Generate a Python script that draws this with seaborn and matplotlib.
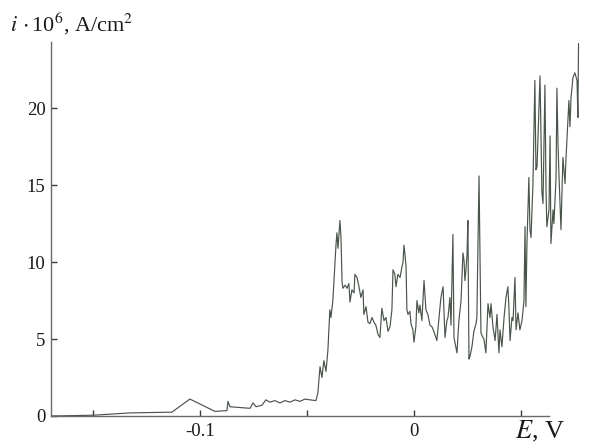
import matplotlib
matplotlib.use("Agg")
import matplotlib.pyplot as plt
import seaborn as sns
import numpy as np
import pandas as pd

# Potential E (V) and current density i*10^6 (A/cm^2)
E = [-0.1692, -0.1500, -0.1327, -0.1131, -0.1047, -0.0930, -0.0874, -0.0869, -0.0860, -0.0813,
     -0.0766, -0.0752, -0.0738, -0.0710, -0.0692, -0.0673, -0.0650, -0.0626, -0.0603, -0.0579,
     -0.0556, -0.0533, -0.0509, -0.0486, -0.0458, -0.0449, -0.0439, -0.0430, -0.0421, -0.0411,
     -0.0402, -0.0393, -0.0388, -0.0379, -0.0369, -0.0364, -0.0360, -0.0355, -0.0346, -0.0341,
     -0.0336, -0.0332, -0.0322, -0.0313, -0.0304, -0.0299, -0.0290, -0.0280, -0.0276, -0.0266,
     -0.0257, -0.0248, -0.0238, -0.0234, -0.0224, -0.0215, -0.0206, -0.0196, -0.0187, -0.0178,
     -0.0168, -0.0159, -0.0150, -0.0140, -0.0131, -0.0121, -0.0112, -0.0103, -0.0098, -0.0089,
     -0.0084, -0.0075, -0.0065, -0.0056, -0.0051, -0.0047, -0.0042, -0.0037, -0.0033, -0.0028,
     -0.0019, -0.0014, -0.0005, 0.0000, 0.0009, 0.0014, 0.0023, 0.0028, 0.0037, 0.0047,
     0.0056, 0.0065, 0.0075, 0.0084, 0.0093, 0.0107, 0.0117, 0.0126, 0.0136, 0.0145,
     0.0154, 0.0159, 0.0168, 0.0173, 0.0182, 0.0187, 0.0201, 0.0210, 0.0220, 0.0229,
     0.0234, 0.0238, 0.0243, 0.0248, 0.0252, 0.0257, 0.0262, 0.0271, 0.0280, 0.0290,
     0.0294, 0.0304, 0.0313, 0.0322, 0.0327, 0.0336, 0.0346, 0.0355, 0.0360, 0.0369,
     0.0379, 0.0388, 0.0397, 0.0402, 0.0411, 0.0421, 0.0430, 0.0439, 0.0444, 0.0449,
     0.0458, 0.0463, 0.0472, 0.0477, 0.0486, 0.0495, 0.0505, 0.0514, 0.0519, 0.0523,
     0.0528, 0.0537, 0.0542, 0.0547, 0.0556, 0.0565, 0.0570, 0.0575, 0.0589, 0.0598,
     0.0603, 0.0612, 0.0617, 0.0621, 0.0631, 0.0636, 0.0640, 0.0650, 0.0654, 0.0664,
     0.0668, 0.0673, 0.0678, 0.0687, 0.0692, 0.0696, 0.0706, 0.0710, 0.0724, 0.0729,
     0.0734, 0.0743, 0.0752, 0.0762, 0.0766, 0.0769]
I = [0.0, 0.05, 0.2, 0.25, 1.1, 0.3, 0.35, 0.95, 0.6, 0.55,
     0.5, 0.85, 0.6, 0.7, 1.05, 0.9, 1.0, 0.85, 1.0, 0.9,
     1.05, 0.95, 1.1, 1.05, 1.0, 1.5, 3.2, 2.5, 3.6, 2.9,
     4.3, 6.9, 6.4, 7.5, 9.9, 11.2, 11.9, 10.9, 12.7, 11.6,
     8.7, 8.3, 8.5, 8.3, 8.6, 7.4, 8.2, 8.0, 9.2, 9.0,
     8.4, 7.7, 8.2, 6.6, 7.1, 6.1, 6.0, 6.4, 6.1, 5.9,
     5.3, 5.1, 7.0, 6.2, 6.4, 5.5, 5.8, 6.9, 9.5, 9.2,
     8.4, 9.2, 9.0, 9.7, 10.0, 11.1, 10.5, 9.7, 6.9, 6.6,
     6.8, 6.0, 5.6, 4.8, 5.8, 7.5, 6.7, 7.2, 6.2, 8.8,
     6.9, 6.6, 5.9, 5.8, 5.5, 4.9, 6.4, 7.7, 8.4, 5.1,
     6.2, 6.4, 7.7, 5.9, 11.8, 5.1, 4.1, 6.2, 7.5, 10.6,
     10.1, 8.8, 9.5, 10.5, 12.7, 3.7, 3.9, 4.5, 5.5, 6.0,
     6.4, 15.6, 5.4, 5.1, 5.0, 4.1, 7.3, 6.4, 7.3, 5.8,
     4.9, 6.6, 4.1, 5.6, 4.5, 6.4, 7.7, 8.4, 6.9, 4.9,
     6.4, 6.2, 9.0, 5.6, 6.7, 5.6, 6.2, 7.5, 12.3, 7.1,
     11.2, 15.5, 12.1, 11.6, 15.1, 21.8, 16.0, 16.2, 22.1, 14.5,
     13.8, 21.5, 14.7, 12.3, 13.4, 18.2, 11.2, 13.4, 12.5, 15.5,
     21.3, 17.7, 15.5, 12.1, 14.7, 16.8, 15.1, 16.6, 20.5, 18.8,
     20.7, 22.0, 22.3, 21.8, 19.4, 24.2]

x_ticks = [-0.15, -0.10, -0.05, 0.0, 0.05]
x_tick_labels = ["", "-0.1", "", "0", ""]
y_ticks = [0, 5, 10, 15, 20]
y_tick_labels = ["0", "5", "10", "15", "20"]

sns.set_style("ticks")
plt.rcParams["font.family"] = ["Liberation Serif", "DejaVu Serif"]
plt.rcParams["mathtext.fontset"] = "stix"
plt.rcParams["axes.unicode_minus"] = False

df = pd.DataFrame({"E": E, "i": I})

fig = plt.figure(figsize=(5.92, 4.45), dpi=100)
ax = fig.add_axes([51 / 592, 1 - 416 / 445, (549 - 51) / 592, (416 - 42) / 445])

sns.lineplot(data=df, x="E", y="i", sort=False, estimator=None, ax=ax,
             color="#4a544a", linewidth=0.85, clip_on=False)

ax.set_xlim(-0.1696, 0.0631)
ax.set_ylim(0, 24.3)
ax.set_xticks(x_ticks)
ax.set_xticklabels(x_tick_labels)
ax.set_yticks(y_ticks)
ax.set_yticklabels(y_tick_labels)
ax.set_xlabel("")
ax.set_ylabel("")

for s in ["top", "right"]:
    ax.spines[s].set_visible(False)
for s in ["left", "bottom"]:
    ax.spines[s].set_color("#6a6a6a")
    ax.spines[s].set_linewidth(1.0)

ax.tick_params(axis="both", direction="in", length=4, width=1.0, color="#3a3a3a",
               labelsize=13.5, labelcolor="#1a1a1a")
ax.tick_params(axis="y", pad=4)
ax.tick_params(axis="x", pad=5)

fig.text(10 / 592, 1 - 32 / 445, r"$i\,\cdot$10$^6$, A/cm$^2$", fontsize=16,
         color="#1a1a1a", ha="left", va="baseline")
fig.text(515 / 592, 1 - 438 / 445, r"$E$, V", fontsize=19,
         color="#1a1a1a", ha="left", va="baseline")

fig.savefig("out.png", dpi=100, facecolor="white")
